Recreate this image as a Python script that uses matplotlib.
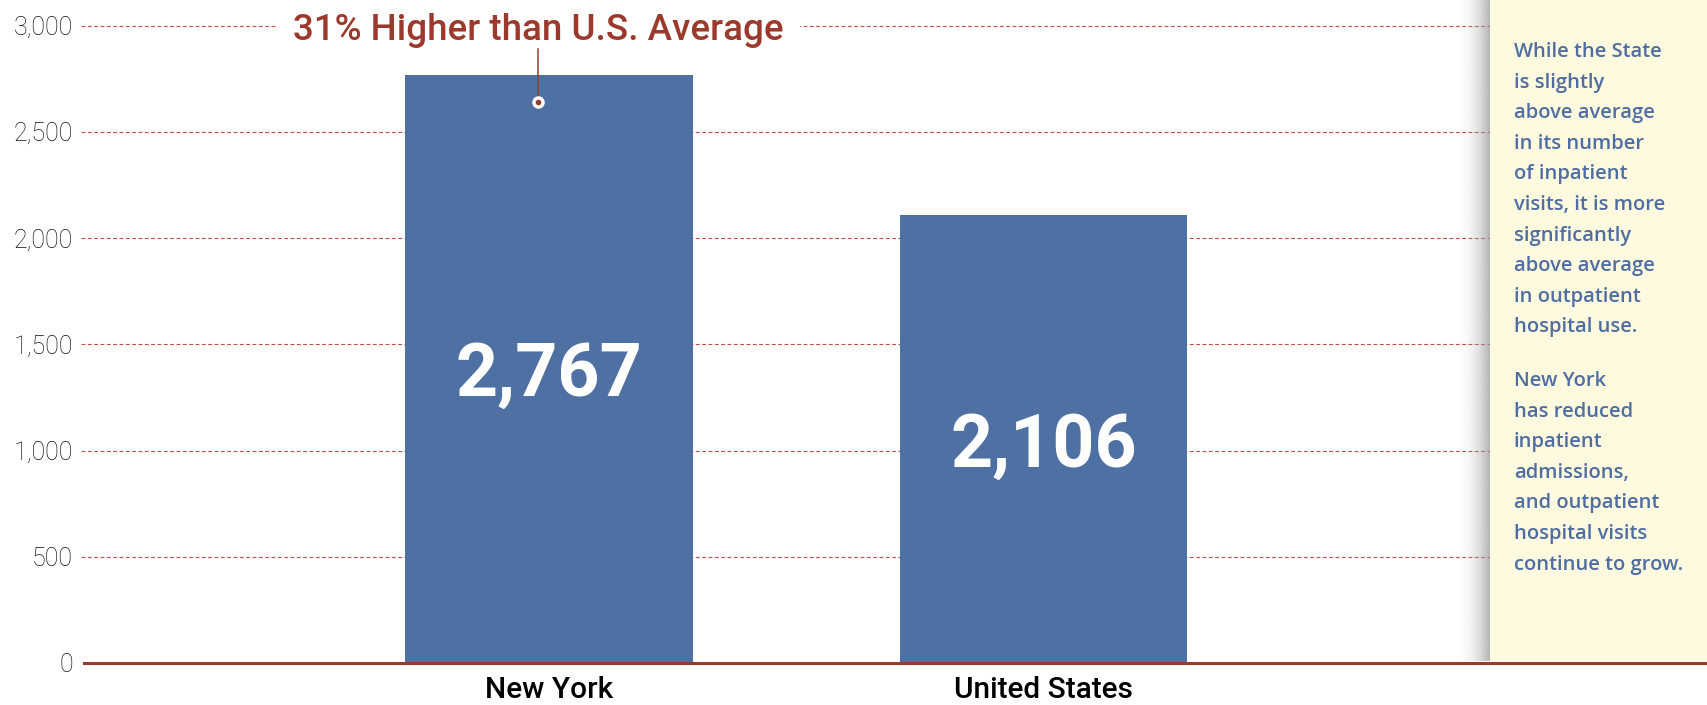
import numpy as np
import matplotlib.pyplot as plt
from matplotlib.ticker import FuncFormatter

# outpatient hospital visits per 1,000 population
categories = ['New York', 'United States']
visits = [2767, 2106]
y_ticks = [0, 500, 1000, 1500, 2000, 2500, 3000]
callout = '31% Higher than U.S. Average'
note_1 = ['While the State', 'is slightly', 'above average', 'in its number',
          'of inpatient', 'visits, it is more', 'significantly', 'above average',
          'in outpatient', 'hospital use.']
note_2 = ['New York', 'has reduced', 'inpatient', 'admissions,',
          'and outpatient', 'hospital visits', 'continue to grow.']

BLUE = '#4e70a2'
RED = '#9b3a2c'
GRID = '#c0504d'
NOTE_BG = '#fefadf'
NOTE_TXT = '#4f6da0'

plt.rcParams['font.family'] = ['Roboto', 'DejaVu Sans']

W, H = 1708, 705
fig = plt.figure(figsize=(W / 100, H / 100), dpi=100)
ax = fig.add_axes([84 / W, 42 / H, 1 - 84 / W, (663 - 25.5) / H])

x = np.arange(len(categories))
ax.bar(x, visits, width=0.581, color=BLUE, zorder=2)
ax.set_xlim(-0.940, 2.343)
ax.set_ylim(0, 3000)

for s in ['top', 'right', 'left']:
    ax.spines[s].set_visible(False)
ax.spines['bottom'].set_color(RED)
ax.spines['bottom'].set_linewidth(2.2)
ax.spines['bottom'].set_zorder(4)

for t in y_ticks[1:]:
    ax.axhline(t, xmin=-0.002, color=GRID, lw=0.8, dashes=(3.5, 2.2), zorder=1, clip_on=False)

ax.set_yticks(y_ticks)
ax.yaxis.set_major_formatter(FuncFormatter(lambda v, p: f'{int(v):,}'))
ax.tick_params(axis='y', length=0, pad=8, labelsize=18, labelcolor='#111111')
for lab in ax.get_yticklabels():
    lab.set_fontweight('light')

ax.set_xticks(x)
ax.set_xticklabels(categories)
ax.tick_params(axis='x', length=0, pad=9, labelsize=21.5, labelcolor='black')
for lab in ax.get_xticklabels():
    lab.set_fontweight('medium')

# big value labels in the middle of each bar
for xi, v in zip(x, visits):
    ax.annotate(f'{v:,}', xy=(xi, v / 2), xytext=(0, -19.5), textcoords='offset points',
                ha='center', va='baseline', fontsize=53, fontweight='bold', color='white', zorder=3)

# callout above New York
xc = x[0] - 0.022
ax.text(xc, 2932, callout, ha='center', va='baseline', fontsize=26.5, color=RED,
        fontweight='medium', zorder=3, clip_on=False,
        bbox=dict(facecolor='white', edgecolor='none', pad=12))
ax.plot([xc, xc], [2889, 2638], color=RED, lw=1.1, zorder=5, clip_on=False)
ax.plot(xc, 2638, 'o', ms=8, mfc='white', mec='white', zorder=6)
ax.plot(xc, 2638, 'o', ms=3, color=RED, zorder=7)

# side note panel with a soft shadow on its left edge
sh = fig.add_axes([1456 / W, 44 / H, 34 / W, 661 / H], zorder=2)
g = np.linspace(0, 1, 80)
shade = np.zeros((1, g.size, 4))
shade[..., :3] = 0.6
shade[..., 3] = g ** 2.2 * 0.75
sh.imshow(shade, aspect='auto', extent=(0, 1, 0, 1))
sh.axis('off')

side = fig.add_axes([1490 / W, 44 / H, 218 / W, 661 / H], zorder=3)
side.set_facecolor(NOTE_BG)
side.set_xticks([])
side.set_yticks([])
for s in side.spines.values():
    s.set_visible(False)

note_font = dict(ha='left', va='center', fontsize=14.5, fontweight='semibold',
                 color=NOTE_TXT, family=['Open Sans', 'DejaVu Sans'], zorder=4)
step = 30.6
y0 = 52
for i, line in enumerate(note_1):
    fig.text(1514 / W, 1 - (y0 + i * step) / H, line, **note_font)
y1 = 381
for i, line in enumerate(note_2):
    fig.text(1514 / W, 1 - (y1 + i * step) / H, line, **note_font)

fig.savefig('out.png', dpi=100)
